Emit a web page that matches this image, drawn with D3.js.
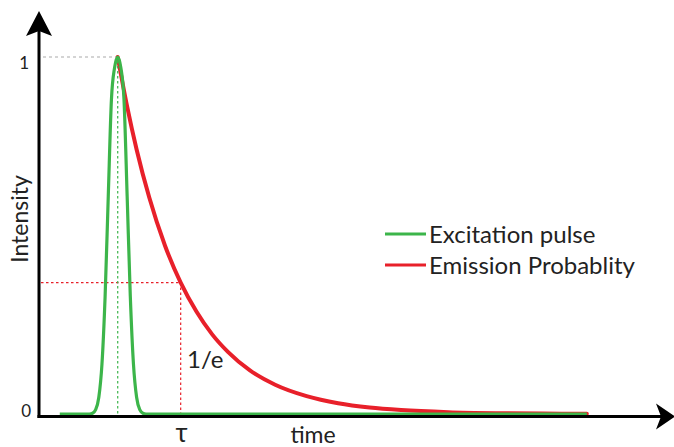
<!DOCTYPE html>
<html>
<head>
<meta charset="utf-8">
<script src="https://cdn.jsdelivr.net/npm/d3@7"></script>
<style>
  html, body { margin: 0; padding: 0; background: #fff; }
  svg { display: block; }
  text { font-family: Lato, "Open Sans", sans-serif; fill: #222; }
</style>
</head>
<body>
<svg id="chart" width="674" height="447"></svg>
<script>
// Time axis in arbitrary units; the pulse peaks at t = 1.25 and the lifetime is 1 unit.
const peakTime = 1.25;
const tauTime = 2.25;
const invE = 0.368;

// Excitation pulse (narrow Gaussian) sampled along time
const pulseTime  = [0.33, 0.80, 0.85, 0.90, 0.95, 1.00, 1.05, 1.10, 1.15, 1.20, 1.25, 1.30, 1.35, 1.40, 1.45, 1.50, 1.55, 1.60, 1.65, 1.70, 2.50, 4.00, 6.00, 8.70];
const pulseValue = [0, 0, 0.002, 0.012, 0.047, 0.14, 0.33, 0.61, 0.88, 0.97, 1.0, 0.97, 0.88, 0.61, 0.33, 0.14, 0.047, 0.012, 0.002, 0, 0, 0, 0, 0];

// Emission probability decaying from the pulse peak
const emissionTime  = [1.25, 1.40, 1.55, 1.75, 2.00, 2.25, 2.50, 2.75, 3.00, 3.35, 3.75, 4.25, 4.75, 5.25, 5.75, 6.50, 7.25, 8.00, 8.70];
const emissionValue = [1.0, 0.861, 0.741, 0.607, 0.472, 0.368, 0.287, 0.223, 0.174, 0.122, 0.082, 0.050, 0.030, 0.018, 0.011, 0.0052, 0.0024, 0.0011, 0.0005];

const yTickLabels = ["0", "1"];
const seriesNames = ["Excitation pulse", "Emission Probablity"];
const seriesColors = ["#3cb54a", "#e8202a"];

const svg = d3.select("#chart");
const x = d3.scaleLinear().domain([0, 10.1]).range([39, 675]);
const y = d3.scaleLinear().domain([0, 1]).range([414, 57]);

const line = d3.line().x(d => x(d[0])).y(d => y(d[1])).curve(d3.curveMonotoneX);

// Guide lines: peak level, pulse centre and 1/e level
svg.append("line")
  .attr("x1", x(0) + 4).attr("x2", x(peakTime)).attr("y1", y(1)).attr("y2", y(1))
  .attr("stroke", "#aaa").attr("stroke-width", 1.2).attr("stroke-dasharray", "3,3");
svg.append("line")
  .attr("x1", x(0) + 2).attr("x2", x(tauTime)).attr("y1", y(invE)).attr("y2", y(invE))
  .attr("stroke", seriesColors[1]).attr("stroke-width", 1.2).attr("stroke-dasharray", "2.5,2.5");
svg.append("line")
  .attr("x1", x(tauTime)).attr("x2", x(tauTime)).attr("y1", y(invE)).attr("y2", y(0))
  .attr("stroke", seriesColors[1]).attr("stroke-width", 1.2).attr("stroke-dasharray", "2.5,2.5");

// Emission decay
svg.append("path")
  .datum(d3.zip(emissionTime, emissionValue))
  .attr("d", line)
  .attr("fill", "none").attr("stroke", seriesColors[1]).attr("stroke-width", 4)
  .attr("stroke-linecap", "round").attr("stroke-linejoin", "round");

// Excitation pulse
svg.append("path")
  .datum(d3.zip(pulseTime, pulseValue))
  .attr("d", line)
  .attr("fill", "none").attr("stroke", seriesColors[0]).attr("stroke-width", 3.2)
  .attr("stroke-linejoin", "round");

svg.append("line")
  .attr("x1", x(peakTime)).attr("x2", x(peakTime)).attr("y1", y(1) + 4).attr("y2", y(0))
  .attr("stroke", seriesColors[0]).attr("stroke-width", 1.2).attr("stroke-dasharray", "2.5,2.5");

// Axes with arrow heads
const axisY = y(0) + 2.5;
svg.append("line")
  .attr("x1", x(0)).attr("x2", x(0)).attr("y1", axisY + 1.5).attr("y2", 30)
  .attr("stroke", "#000").attr("stroke-width", 3);
svg.append("line")
  .attr("x1", x(0) - 1.5).attr("x2", 664).attr("y1", axisY).attr("y2", axisY)
  .attr("stroke", "#000").attr("stroke-width", 3);

const ax = x(0);
svg.append("path")
  .attr("d", `M${ax},11 L${ax + 13},36 L${ax},31 L${ax - 13},36 Z`)
  .attr("fill", "#000");
svg.append("path")
  .attr("d", `M675,${axisY} L656,${axisY - 13} L661,${axisY} L656,${axisY + 13} Z`)
  .attr("fill", "#000");

// Axis text
svg.append("text").attr("x", 31).attr("y", 417).attr("text-anchor", "end")
  .attr("font-size", 17).text(yTickLabels[0]);
svg.append("text").attr("x", 29).attr("y", 69).attr("text-anchor", "end")
  .attr("font-size", 17).text(yTickLabels[1]);

svg.append("text")
  .attr("transform", "translate(28,219) rotate(-90)")
  .attr("text-anchor", "middle").attr("font-size", 23).text("Intensity");
svg.append("text").attr("x", 313).attr("y", 443).attr("text-anchor", "middle")
  .attr("font-size", 23).text("time");
svg.append("text").attr("x", x(tauTime) + 1).attr("y", 442).attr("text-anchor", "middle")
  .attr("font-size", 26).text("τ");
svg.append("text").attr("x", 187).attr("y", 368)
  .attr("font-size", 24).text("1/e");

// Legend
const legend = svg.append("g");
seriesNames.forEach((name, i) => {
  const ly = 234 + i * 31;
  legend.append("line")
    .attr("x1", 385).attr("x2", 426).attr("y1", ly).attr("y2", ly)
    .attr("stroke", seriesColors[i]).attr("stroke-width", 3);
  legend.append("text").attr("x", 429).attr("y", ly + 9)
    .attr("font-size", 24).text(name);
});
</script>
</body>
</html>
